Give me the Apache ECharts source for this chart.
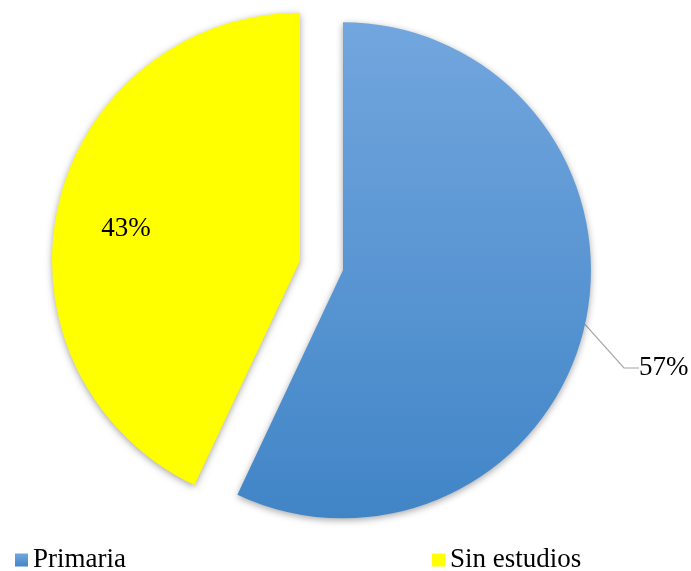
<!DOCTYPE html>
<html>
<head>
<meta charset="utf-8">
<script src="https://cdn.jsdelivr.net/npm/echarts@6/dist/echarts.min.js"></script>
<style>
  html, body { margin: 0; padding: 0; background: #ffffff; }
  #chart { width: 691px; height: 571px; }
</style>
</head>
<body>
<div id="chart"></div>
<script>
// Nivel de estudios: share of each group (percent)
const categories = ['Primaria', 'Sin estudios'];
const shares = [57, 43];

const serif = '"Liberation Serif", "Times New Roman", serif';
const pieCenter = [321.5, 265.5];
const pieRadius = 248;
const explode = 22;

const sliceColors = [
  new echarts.graphic.LinearGradient(0, 0, 0, 1, [
    { offset: 0, color: '#72a6de' },
    { offset: 1, color: '#4185c7' }
  ]),
  '#ffff00'
];

const total = shares.reduce((a, b) => a + b, 0);

// Each slice gets its own series so it can be pulled out along its mid-angle;
// the other slice in that series is kept as an invisible spacer.
function explodedCenter(index) {
  let before = 0;
  for (let i = 0; i < index; i++) before += shares[i];
  const mid = ((before + shares[index] / 2) / total) * 2 * Math.PI; // clockwise from 12 o'clock
  return [pieCenter[0] + explode * Math.sin(mid), pieCenter[1] - explode * Math.cos(mid)];
}

const labelPlacement = [
  { position: 'outside', layout: { x: 639, y: 368, align: 'left', verticalAlign: 'middle' } },
  { position: 'inside', layout: { x: 126, y: 229, align: 'center', verticalAlign: 'middle' } }
];

const seriesList = categories.map((name, idx) => ({
  type: 'pie',
  name: name,
  center: explodedCenter(idx),
  radius: pieRadius,
  startAngle: 90,
  clockwise: true,
  avoidLabelOverlap: false,
  emphasis: { disabled: true },
  tooltip: { show: false },
  label: {
    show: true,
    position: labelPlacement[idx].position,
    formatter: '{d}%',
    fontFamily: serif,
    fontSize: 27,
    color: '#000',
    overflow: 'none'
  },
  labelLine: {
    show: idx === 0,
    length: 20,
    length2: 15,
    minTurnAngle: 0,
    lineStyle: { color: '#a6a6a6', width: 1.2 }
  },
  labelLayout: function (params) {
    return params.dataIndex === idx ? labelPlacement[idx].layout : {};
  },
  data: categories.map((n, i) => i === idx ? {
    name: n,
    value: shares[i],
    itemStyle: {
      color: sliceColors[i],
      shadowBlur: 7,
      shadowColor: 'rgba(0,0,0,0.35)',
      shadowOffsetY: 2
    }
  } : {
    name: '',
    value: shares[i],
    silent: true,
    itemStyle: { color: 'rgba(0,0,0,0)', shadowBlur: 0 },
    label: { show: false },
    labelLine: { show: false }
  })
}));

function legendFor(idx, left) {
  return {
    data: [{ name: categories[idx], itemStyle: { color: sliceColors[idx] } }],
    left: left, top: 546, padding: 0,
    icon: 'rect', itemWidth: 13, itemHeight: 13,
    selectedMode: false,
    textStyle: { fontFamily: serif, fontSize: 27, color: '#000', lineHeight: 28 }
  };
}

const chart = echarts.init(document.getElementById('chart'), null, { renderer: 'canvas' });

chart.setOption({
  animation: false,
  backgroundColor: '#ffffff',
  legend: [legendFor(0, 15), legendFor(1, 432)],
  series: seriesList
});
</script>
</body>
</html>
